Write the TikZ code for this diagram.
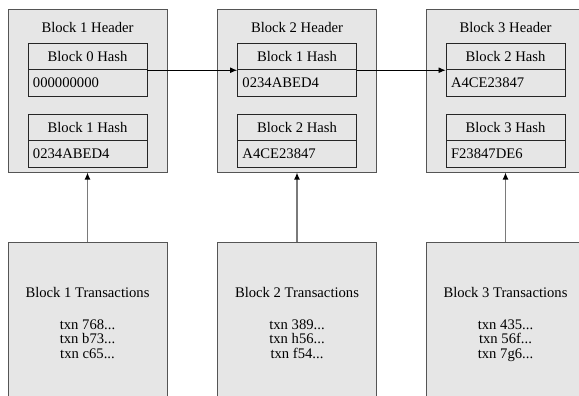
\documentclass[tikz,border=0pt]{standalone}
\usepackage{fontspec}
\setmainfont{Liberation Serif}
\usetikzlibrary{arrows.meta}
\definecolor{boxfill}{HTML}{E6E6E6}
\definecolor{boxline}{HTML}{555555}
\definecolor{feedgray}{HTML}{7A7A7A}
\begin{document}
\begin{tikzpicture}[x=0.03cm, y=-0.03cm,
        font=\fontsize{12.5}{12.4}\selectfont,
        header/.style={draw=boxline, fill=boxfill, rectangle, minimum width=4.77cm, minimum height=4.89cm, line width=0.8pt},
        hashtitle/.style={draw=black!85, fill=boxfill, rectangle, minimum width=3.57cm, minimum height=0.8cm, line width=0.7pt},
        hashvalue/.style={hashtitle, text width=3.27cm, align=left},
        txbox/.style={draw=boxline, fill=boxfill, rectangle, minimum width=4.77cm, minimum height=4.98cm, align=center, line width=0.8pt},
        link/.style={-{Latex[length=6pt, width=5pt]}, black, line width=0.7pt},
        feed/.style={-{Latex[length=6pt, width=5pt, black]}, feedgray, line width=1pt}]
        \useasboundingbox (0, 0) rectangle (579, 396);

        % Block headers
        \node[header] (hdr1) at (87.5, 90.5) {};
        \node[header] (hdr2) at (297, 90.5) {};
        \node[header] (hdr3) at (505.5, 90.5) {};
        \node (title1) at (87.5, 27) {Block 1 Header};
        \node (title2) at (297, 27) {Block 2 Header};
        \node (title3) at (505.5, 27) {Block 3 Header};

        % Previous hashes
        \node[hashtitle] (prev1) at (87.5, 56.5) {Block 0 Hash};
        \node[hashvalue] (prevval1) at (87.5, 83.2) {000000000};
        \node[hashtitle] (prev2) at (297, 56.5) {Block 1 Hash};
        \node[hashvalue] (prevval2) at (297, 83.2) {0234ABED4};
        \node[hashtitle] (prev3) at (505.5, 56.5) {Block 2 Hash};
        \node[hashvalue] (prevval3) at (505.5, 83.2) {A4CE23847};

        % Own hashes
        \node[hashtitle] (cur1) at (87.5, 127.3) {Block 1 Hash};
        \node[hashvalue] (curval1) at (87.5, 154) {0234ABED4};
        \node[hashtitle] (cur2) at (297, 127.3) {Block 2 Hash};
        \node[hashvalue] (curval2) at (297, 154) {A4CE23847};
        \node[hashtitle] (cur3) at (505.5, 127.3) {Block 3 Hash};
        \node[hashvalue] (curval3) at (505.5, 154) {F23847DE6};

        % Chain links
        \draw[link] (prev1.south east) -- (prev2.south west);
        \draw[link] (prev2.south east) -- (prev3.south west);

        % Transactions
        \node[txbox] (txs1) at (87.5, 325) {Block 1 Transactions\\[15pt]txn 768...\\txn b73...\\txn c65...\strut};
        \node[txbox] (txs2) at (297, 325) {Block 2 Transactions\\[15pt]txn 389...\\txn h56...\\txn f54...\strut};
        \node[txbox] (txs3) at (505.5, 325) {Block 3 Transactions\\[15pt]txn 435...\\txn 56f...\\txn 7g6...\strut};
        \draw[feed] (txs1) -- (hdr1);
        \draw[feed] (txs2) -- (hdr2);
        \draw[feed] (txs3) -- (hdr3);
    \end{tikzpicture}
\end{document}
